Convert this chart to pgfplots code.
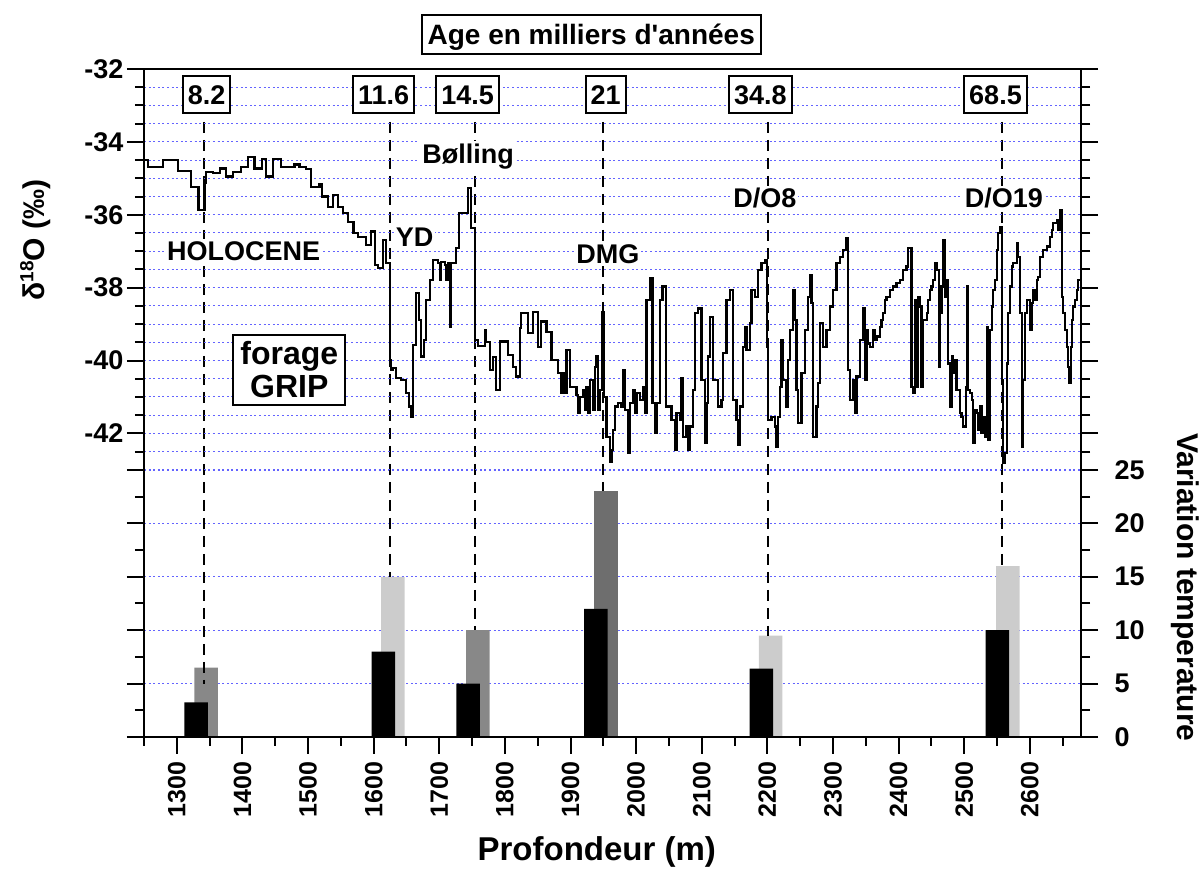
\documentclass[border=0pt]{standalone}
\usepackage{pgfplots}
\pgfplotsset{compat=1.18}
\usepackage{fontspec}
\setmainfont{Liberation Sans}[Ligatures=TeXOff]
\definecolor{gridblue}{RGB}{100,100,255}
\definecolor{gmed}{RGB}{136,136,136}
\definecolor{glight}{RGB}{204,204,204}
\definecolor{gdark}{RGB}{110,110,110}
\newcommand{\fs}[1]{\fontsize{#1}{#1}\selectfont\bfseries}
\tikzset{
  bx/.style={draw=black, line width=2pt, fill=white, font=\fs{27},
    inner xsep=5pt, inner ysep=9pt, text height=19.3pt, text depth=0pt},
  lab/.style={fill=white, inner sep=2pt, font=\fs{27}},
}
\begin{document}
\begin{tikzpicture}
\pgfplotsset{
  common/.style={
    scale only axis, width=937pt, height=668pt,
    xmin=1250, xmax=2678,
    axis line style={line width=2.3pt},
    tick style={line width=2pt, black},
    major tick length=17pt, minor tick length=9pt,
    tick align=outside,
    clip=false,
    /pgf/number format/assume math mode=true,
    /pgf/number format/1000 sep={},
    every major grid/.style={draw=gridblue, line width=1pt, dash pattern=on 2pt off 2.6pt},
    every minor grid/.style={draw=gridblue, line width=1pt, dash pattern=on 2pt off 2.6pt},
  },
}
% ---------- temperature axis (bars) ----------
\begin{axis}[common,
  ymin=0, ymax=62.55,
  xtick=\empty, minor xtick={},
  ytick={0,5,...,25}, minor ytick={2.5,7.5,...,22.5},
  ytick pos=both, yticklabel pos=right,
  yticklabel style={font=\fs{27}},
  yticklabel shift=13pt,
  ymajorgrids,
]
\addplot[ybar, bar width=23.5pt, bar shift=0pt, fill=gmed, draw=none]
  coordinates {(1344.8,6.5) (1759,10)};
\addplot[ybar, bar width=23.5pt, bar shift=0pt, fill=glight, draw=none]
  coordinates {(1629.4,15) (2205,9.5) (2566.7,16)};
\addplot[ybar, bar width=23.5pt, bar shift=0pt, fill=gdark, draw=none]
  coordinates {(1954,23)};
\addplot[ybar, bar width=23.5pt, bar shift=0pt, fill=black, draw=none]
  coordinates {(1329.6,3.25) (1614.7,8) (1743.8,5) (1938.5,12) (2191,6.4) (2550.5,10)};
\draw[line width=2pt, dash pattern=on 11pt off 7pt] (axis cs:1340.7,57.6) -- (axis cs:1340.7,5);
\draw[line width=2pt, dash pattern=on 11pt off 7pt] (axis cs:1625.4,57.6) -- (axis cs:1625.4,15);
\draw[line width=2pt, dash pattern=on 11pt off 7pt] (axis cs:1754.4,57.6) -- (axis cs:1754.4,10);
\draw[line width=2pt, dash pattern=on 11pt off 7pt] (axis cs:1949.1,57.6) -- (axis cs:1949.1,23);
\draw[line width=2pt, dash pattern=on 11pt off 7pt] (axis cs:2201.5,57.6) -- (axis cs:2201.5,9.5);
\draw[line width=2pt, dash pattern=on 11pt off 7pt] (axis cs:2558.0,57.6) -- (axis cs:2558.0,16);
\node[rotate=-90, font=\fs{30}] at (axis cs:2836.6,14.0) {Variation temperature};
\end{axis}
% ---------- delta 18O axis (curve) ----------
\begin{axis}[common,
  ymin=-50.33, ymax=-32,
  xtick={1300,1400,...,2600}, minor xtick={1250,1350,...,2650},
  xtick pos=bottom,
  xticklabel style={rotate=90, anchor=east, font=\fs{25}},
  xticklabel shift=4pt,
  ytick={-42,-40,-38,-36,-34,-32},
  yticklabels={-42,-40,-38,-36,-34,-32},
  minor ytick={-43,-42.5,...,-32.5},
  ytick pos=both, yticklabel pos=left,
  yticklabel style={font=\fs{27}},
  ymajorgrids, yminorgrids,
]
\addplot[const plot, line width=2.2pt, black] coordinates {
(1250,-34.50) (1255.8,-34.68) (1278.7,-34.50) (1301.6,-34.79) (1321.9,-35.23)
(1333.1,-35.87) (1342.2,-35.12) (1344.8,-34.82) (1354.9,-34.86) (1366.1,-34.73)
(1375.3,-34.95) (1385.4,-34.82) (1398.2,-34.70) (1408.3,-34.41) (1418.5,-34.73)
(1430.2,-34.48) (1436.3,-34.95) (1446.4,-34.48) (1459.1,-34.68) (1479.5,-34.62)
(1487.1,-34.68) (1497.3,-34.75) (1504.9,-35.23) (1517.6,-35.16) (1521.7,-35.50)
(1530.3,-35.78) (1537.9,-35.46) (1545.6,-35.78) (1553.2,-35.96) (1560.8,-36.19)
(1569.4,-36.49) (1576.0,-36.60) (1588.8,-36.83) (1596.4,-36.46) (1601.5,-37.38)
(1606.5,-37.47) (1614.2,-36.69) (1619.3,-37.33)
(1624.3,-39.98) (1626.9,-40.26) (1629.4,-40.20) (1634.5,-40.49) (1642.1,-40.54)
(1649.8,-40.90) (1653.8,-41.26) (1657.4,-41.54) (1659.9,-39.57) (1664.0,-38.15)
(1669.1,-38.89) (1672.6,-39.89) (1676.2,-39.43) (1680.3,-38.34) (1685.3,-37.79)
(1690.4,-37.24) (1698.0,-37.33) (1700.6,-37.79) (1703.1,-37.30) (1708.2,-37.38)
(1710.8,-37.79) (1713.3,-37.33) (1715.8,-39.07) (1718.4,-37.33) (1726.0,-36.92)
(1730.1,-35.96) (1743.8,-35.27) (1748.9,-36.37) (1754.0,-39.43) (1759.0,-39.60)
(1769.2,-39.16) (1771.7,-39.50) (1776.8,-40.26) (1781.9,-39.90) (1787.0,-40.80)
(1792.1,-39.48) (1804.8,-39.85) (1812.4,-40.17) (1817.5,-40.44) (1822.6,-39.11)
(1825.1,-38.70) (1835.3,-39.25) (1842.9,-38.66) (1850.6,-39.62) (1855.6,-38.93)
(1863.3,-39.21) (1870.9,-39.98) (1881.1,-40.35) (1886.1,-40.90) (1888.7,-40.35)
(1891.2,-40.90) (1893.8,-39.71) (1898.8,-40.72) (1909.0,-40.94) (1911.6,-41.45)
(1914.1,-40.99) (1919.2,-40.81) (1921.7,-41.36) (1924.3,-40.72) (1926.8,-41.45)
(1929.3,-40.53) (1934.4,-41.36) (1937.0,-40.17) (1939.5,-39.89) (1942.0,-41.36)
(1944.6,-40.81) (1948.7,-38.66) (1950.7,-40.99) (1954.8,-42.09) (1959.8,-42.77)
(1962.4,-42.45) (1964.9,-41.90) (1967.5,-41.26) (1972.5,-41.17) (1977.6,-41.26)
(1980.2,-40.26) (1982.7,-41.36) (1987.8,-42.54) (1990.3,-41.17) (1995.4,-40.81)
(1998.0,-41.45) (2000.5,-40.90) (2005.6,-41.08) (2010.7,-40.72) (2013.2,-41.45)
(2015.8,-38.34) (2020.8,-37.74) (2024.9,-41.17) (2028.5,-41.99) (2031.0,-41.17)
(2036.1,-38.34) (2040.1,-37.97) (2045.2,-41.26) (2053.9,-41.63) (2058.9,-42.45)
(2061.5,-41.45) (2066.6,-41.63) (2069.1,-40.49) (2071.7,-42.09) (2076.7,-41.81)
(2079.3,-42.45) (2081.8,-41.81) (2086.9,-40.81) (2089.5,-38.70) (2094.5,-38.57)
(2099.6,-40.53) (2104.7,-42.27) (2107.2,-41.17) (2109.8,-39.89) (2112.3,-38.80)
(2117.4,-40.53) (2125.0,-41.26) (2130.1,-41.08) (2132.7,-39.80) (2137.7,-38.34)
(2142.8,-38.06) (2147.9,-41.08) (2153.0,-41.63) (2155.5,-42.32) (2158.1,-41.26)
(2163.2,-39.62) (2165.7,-39.07) (2168.2,-39.71) (2173.3,-38.98) (2175.9,-38.06)
(2180.9,-38.25) (2186.0,-37.51) (2191.1,-37.33) (2196.2,-37.24) (2199.8,-39.62)
(2201.3,-41.63) (2206.4,-41.54) (2211.5,-41.81) (2214.0,-42.36) (2216.5,-41.54)
(2219.1,-40.72) (2221.6,-39.43) (2224.2,-40.53) (2229.2,-41.26) (2231.8,-39.98)
(2234.3,-39.16) (2239.4,-38.06) (2241.9,-38.89) (2244.5,-40.81) (2247.0,-41.72)
(2252.1,-40.35) (2257.2,-39.16) (2262.3,-38.25) (2264.8,-37.65) (2267.4,-38.43)
(2269.9,-42.09) (2275.0,-41.26) (2277.5,-40.62) (2280.1,-38.98) (2285.2,-39.62)
(2290.2,-39.16) (2295.3,-38.52) (2300.4,-38.06) (2305.5,-37.33) (2310.6,-37.15)
(2315.6,-36.97) (2320.7,-36.65) (2323.3,-40.26) (2325.8,-41.08) (2330.9,-40.53)
(2333.4,-41.45) (2336.0,-40.44) (2341.1,-39.43) (2346.1,-38.57) (2348.7,-40.53)
(2351.2,-39.16) (2353.7,-39.53) (2356.2,-39.62) (2361.3,-39.16) (2363.9,-39.43)
(2366.4,-39.34) (2371.5,-39.07) (2374.0,-38.89) (2376.6,-38.70) (2379.1,-38.34)
(2381.7,-38.25) (2386.7,-38.06) (2391.8,-37.97) (2396.9,-37.88) (2402.0,-37.79)
(2407.1,-37.51) (2412.2,-37.42) (2414.7,-36.92) (2419.8,-40.72) (2422.3,-40.90)
(2424.9,-38.34) (2427.4,-40.72) (2430.0,-38.25) (2432.5,-38.52) (2435.0,-40.72)
(2437.6,-38.89) (2442.7,-38.70) (2445.2,-38.34) (2447.7,-38.06) (2450.3,-37.97)
(2452.8,-37.79) (2455.4,-37.33) (2457.9,-37.51) (2462.0,-40.17) (2463.0,-38.70)
(2465.5,-37.97) (2468.1,-36.69) (2470.6,-38.25) (2473.2,-37.79) (2475.7,-40.08)
(2478.2,-41.26) (2480.8,-39.89) (2483.3,-40.35) (2485.9,-39.98) (2488.4,-40.81)
(2490.9,-40.81) (2493.5,-41.45) (2496.0,-41.54) (2498.6,-41.81) (2502.6,-40.72)
(2504.7,-37.97) (2506.2,-40.81) (2508.7,-40.90) (2511.3,-41.08) (2513.8,-42.27)
(2516.4,-41.36) (2518.9,-41.45) (2521.5,-41.90) (2524.0,-41.26) (2526.5,-41.99)
(2529.1,-41.54) (2531.6,-42.09) (2534.2,-39.07) (2536.7,-42.18) (2539.2,-39.16)
(2541.8,-38.52) (2544.3,-38.06) (2546.9,-37.79) (2549.4,-36.97) (2551.9,-36.51)
(2554.5,-36.33) (2557.0,-40.53) (2559.6,-42.82) (2562.1,-42.54) (2564.7,-40.08)
(2567.2,-38.70) (2569.7,-37.97) (2572.3,-37.42) (2574.8,-37.33) (2579.9,-36.78)
(2582.4,-37.15) (2585.0,-38.70) (2587.5,-42.36) (2590.1,-40.53) (2592.6,-38.70)
(2595.2,-38.34) (2600.2,-39.16) (2602.8,-38.43) (2605.3,-38.06) (2607.9,-38.34)
(2610.4,-37.79) (2612.9,-37.70) (2615.5,-37.15) (2620.6,-36.97) (2625.7,-36.87)
(2630.7,-36.60) (2633.3,-36.42) (2635.8,-36.23) (2640.9,-36.14) (2643.4,-36.42)
(2646.0,-35.87) (2648.5,-38.25) (2651.1,-38.70) (2653.6,-39.16) (2656.2,-39.62)
(2658.7,-40.17) (2660.2,-40.62) (2662.2,-39.62) (2664.3,-38.89) (2666.3,-38.52)
(2668.9,-38.34) (2671.4,-38.06) (2673.9,-37.79) (2676.5,-37.79) (2678,-37.70)
};
% labels
\node[lab] at (axis cs:1401.7,-36.99) {HOLOCENE};
\node[lab] at (axis cs:1662.5,-36.61) {YD};
\node[lab] at (axis cs:1743.9,-34.39) {Bølling};
\node[lab] at (axis cs:1956.8,-37.08) {DMG};
\node[lab] at (axis cs:2196.2,-35.54) {D/O8};
\node[lab] at (axis cs:2560.6,-35.54) {D/O19};
% age boxes
\node[bx] at (axis cs:1345.3,-32.70) {8.2};
\node[bx] at (axis cs:1615.2,-32.70) {11.6};
\node[bx] at (axis cs:1743.3,-32.70) {14.5};
\node[bx] at (axis cs:1953.7,-32.70) {21};
\node[bx] at (axis cs:2189.3,-32.70) {34.8};
\node[bx] at (axis cs:2547.7,-32.70) {68.5};
\node[draw=black, line width=2pt, fill=white, align=center,
      font=\fontsize{32}{33}\selectfont\bfseries, inner xsep=7pt, inner ysep=7pt]
  at (axis cs:1471.4,-40.26) {forage\\GRIP};
\node[draw=black, line width=2pt, fill=white, font=\fs{28},
      inner xsep=6pt, inner ysep=9.5pt, text height=20pt, text depth=0pt]
  at (axis cs:1931.6,-31.05) {Age en milliers d'années};
\node[rotate=90, font=\fs{30}] at (axis cs:1084.5,-36.69)
  {δ\raisebox{0.7ex}{\fontsize{19}{19}\selectfont 18}O (‰)};
\node[font=\fs{33}] at (axis cs:1940,-53.48) {Profondeur (m)};
\end{axis}
\pgfresetboundingbox
\useasboundingbox (-144pt,-145pt) rectangle (1059pt,737pt);
\end{tikzpicture}
\end{document}
